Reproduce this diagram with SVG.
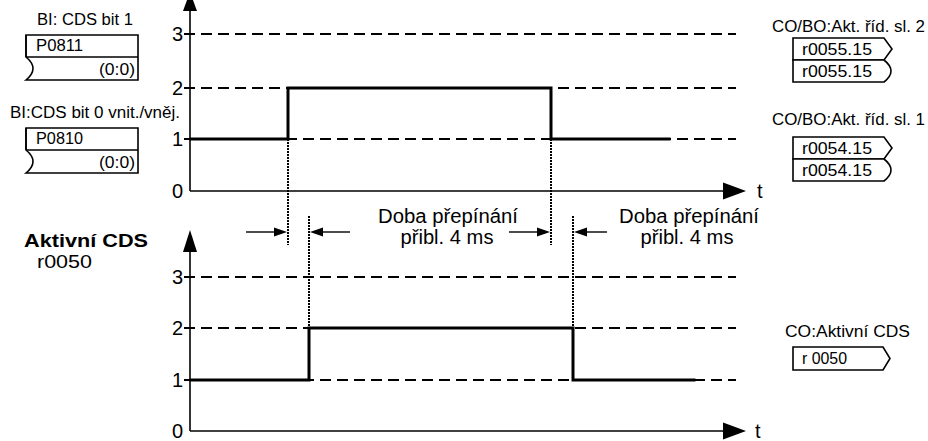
<svg xmlns="http://www.w3.org/2000/svg" width="928" height="441" viewBox="0 0 928 441">
<style>
text{font-family:"Liberation Sans",Arial,sans-serif;fill:#000}
.s{font-size:16px}
.ax{font-size:20px;text-anchor:end}
.lbl{font-size:20px;text-anchor:middle}
.axis{stroke:#000;stroke-width:1.6;fill:none}
.dash{stroke:#000;stroke-width:2;stroke-dasharray:11,6;fill:none}
.sig{stroke:#000;stroke-width:3;fill:none;stroke-linejoin:miter;stroke-linecap:square}
.dot{stroke:#000;stroke-width:2;stroke-dasharray:2,1;fill:none}
.box{stroke:#000;stroke-width:1.6;fill:#fff}
.ln{stroke:#000;stroke-width:1.4;fill:none}
</style>
<rect width="928" height="441" fill="#fff"/>

<g id="top-chart">
  <line class="dash" x1="184" y1="34" x2="736" y2="34"/>
  <line class="dash" x1="184" y1="88" x2="736" y2="88"/>
  <line class="dash" x1="184" y1="139" x2="736" y2="139"/>
  <line class="axis" x1="190" y1="6" x2="190" y2="191"/>
  <line class="axis" x1="190" y1="191" x2="726" y2="191"/>
  <polygon points="190,-8 183,11 197,11" fill="#000"/>
  <polygon points="746,191 723,182.5 723,199.5" fill="#000"/>
  <text class="ax" x="183" y="41">3</text>
  <text class="ax" x="183" y="95">2</text>
  <text class="ax" x="183" y="146">1</text>
  <text class="ax" x="183" y="198">0</text>
  <text x="757" y="198" style="font-size:20px">t</text>
  <polyline class="sig" points="191,139 288,139 288,88 551,88 551,139 669,139"/>
</g>

<g id="bottom-chart">
  <line class="dash" x1="184" y1="277" x2="736" y2="277"/>
  <line class="dash" x1="184" y1="328" x2="736" y2="328"/>
  <line class="dash" x1="184" y1="380" x2="736" y2="380"/>
  <line class="axis" x1="190" y1="248" x2="190" y2="431"/>
  <line class="axis" x1="190" y1="431" x2="726" y2="431"/>
  <polygon points="190,230 183,252 197,252" fill="#000"/>
  <polygon points="746,431 723,422.5 723,439.5" fill="#000"/>
  <text class="ax" x="183" y="284">3</text>
  <text class="ax" x="183" y="335">2</text>
  <text class="ax" x="183" y="387">1</text>
  <text class="ax" x="183" y="438">0</text>
  <text x="755" y="438" style="font-size:20px">t</text>
  <polyline class="sig" points="191,380 309,380 309,328 573,328 573,380 694,380"/>
</g>

<g id="connectors">
  <line class="dot" x1="288" y1="139" x2="288" y2="245"/>
  <line class="dot" x1="309" y1="216" x2="309" y2="328"/>
  <line class="dot" x1="551" y1="139" x2="551" y2="245"/>
  <line class="dot" x1="573" y1="216" x2="573" y2="380"/>
  <line class="ln" x1="246" y1="232" x2="276" y2="232"/>
  <polygon points="287,232 274,227.5 274,236.5" fill="#000"/>
  <line class="ln" x1="350" y1="232" x2="320" y2="232"/>
  <polygon points="310,232 323,227.5 323,236.5" fill="#000"/>
  <line class="ln" x1="509" y1="232" x2="540" y2="232"/>
  <polygon points="550,232 537,227.5 537,236.5" fill="#000"/>
  <line class="ln" x1="607" y1="232" x2="584" y2="232"/>
  <polygon points="574,232 587,227.5 587,236.5" fill="#000"/>
</g>

<g id="label-switch1">
  <text class="lbl" x="448" y="223" textLength="140" lengthAdjust="spacingAndGlyphs">Doba přepínání</text>
  <text class="lbl" x="447" y="244" textLength="93" lengthAdjust="spacingAndGlyphs">přibl. 4 ms</text>
</g>
<g id="label-switch2">
  <text class="lbl" x="689" y="223" textLength="140" lengthAdjust="spacingAndGlyphs">Doba přepínání</text>
  <text class="lbl" x="687" y="244" textLength="93" lengthAdjust="spacingAndGlyphs">přibl. 4 ms</text>
</g>

<g id="node-p0811">
  <text class="s" x="37" y="25" textLength="96" lengthAdjust="spacingAndGlyphs">BI: CDS bit 1</text>
  <path class="box" d="M26,35 H138 V80 H26 Q40,68.5 26,57 Z"/>
  <line class="ln" x1="26" y1="57" x2="138" y2="57" style="stroke-width:1.6"/>
  <line class="ln" x1="26" y1="35" x2="26" y2="57" style="stroke-width:1.6"/>
  <text class="s" x="36" y="51" textLength="47" lengthAdjust="spacingAndGlyphs">P0811</text>
  <text class="s" x="135" y="75" text-anchor="end" textLength="36" lengthAdjust="spacingAndGlyphs">(0:0)</text>
</g>

<g id="node-p0810">
  <text class="s" x="10" y="118" textLength="170" lengthAdjust="spacingAndGlyphs">BI:CDS bit 0 vnit./vněj.</text>
  <path class="box" d="M26,128 H138 V173 H26 Q40,161.5 26,150 Z"/>
  <line class="ln" x1="26" y1="150" x2="138" y2="150" style="stroke-width:1.6"/>
  <line class="ln" x1="26" y1="128" x2="26" y2="150" style="stroke-width:1.6"/>
  <text class="s" x="36" y="144" textLength="47" lengthAdjust="spacingAndGlyphs">P0810</text>
  <text class="s" x="135" y="168" text-anchor="end" textLength="36" lengthAdjust="spacingAndGlyphs">(0:0)</text>
</g>

<g id="node-r0050-left">
  <text x="24" y="247" style="font-size:18px;font-weight:bold" textLength="124" lengthAdjust="spacingAndGlyphs">Aktivní CDS</text>
  <text x="37" y="268" style="font-size:18px" textLength="55" lengthAdjust="spacingAndGlyphs">r0050</text>
</g>

<g id="node-r0055">
  <text class="s" x="772" y="32" textLength="153" lengthAdjust="spacingAndGlyphs">CO/BO:Akt. říd. sl. 2</text>
  <path class="box" d="M793,38 H884 L892,49 L884,60 H793 Z"/>
  <path class="box" d="M793,60 H884 Q898,71 884,82 H793 Z"/>
  <text class="s" x="802" y="55" textLength="70" lengthAdjust="spacingAndGlyphs">r0055.15</text>
  <text class="s" x="802" y="77" textLength="70" lengthAdjust="spacingAndGlyphs">r0055.15</text>
</g>

<g id="node-r0054">
  <text class="s" x="772" y="125" textLength="153" lengthAdjust="spacingAndGlyphs">CO/BO:Akt. říd. sl. 1</text>
  <path class="box" d="M793,137 H884 L892,148 L884,159 H793 Z"/>
  <path class="box" d="M793,159 H884 Q898,170 884,181 H793 Z"/>
  <text class="s" x="802" y="154" textLength="70" lengthAdjust="spacingAndGlyphs">r0054.15</text>
  <text class="s" x="802" y="176" textLength="70" lengthAdjust="spacingAndGlyphs">r0054.15</text>
</g>

<g id="node-r0050-right">
  <text class="s" x="785" y="337" textLength="125" lengthAdjust="spacingAndGlyphs">CO:Aktivní CDS</text>
  <path class="box" d="M793,347 H883 L890,358.5 L883,370 H793 Z"/>
  <text class="s" x="802" y="364" textLength="45" lengthAdjust="spacingAndGlyphs">r 0050</text>
</g>
</svg>
